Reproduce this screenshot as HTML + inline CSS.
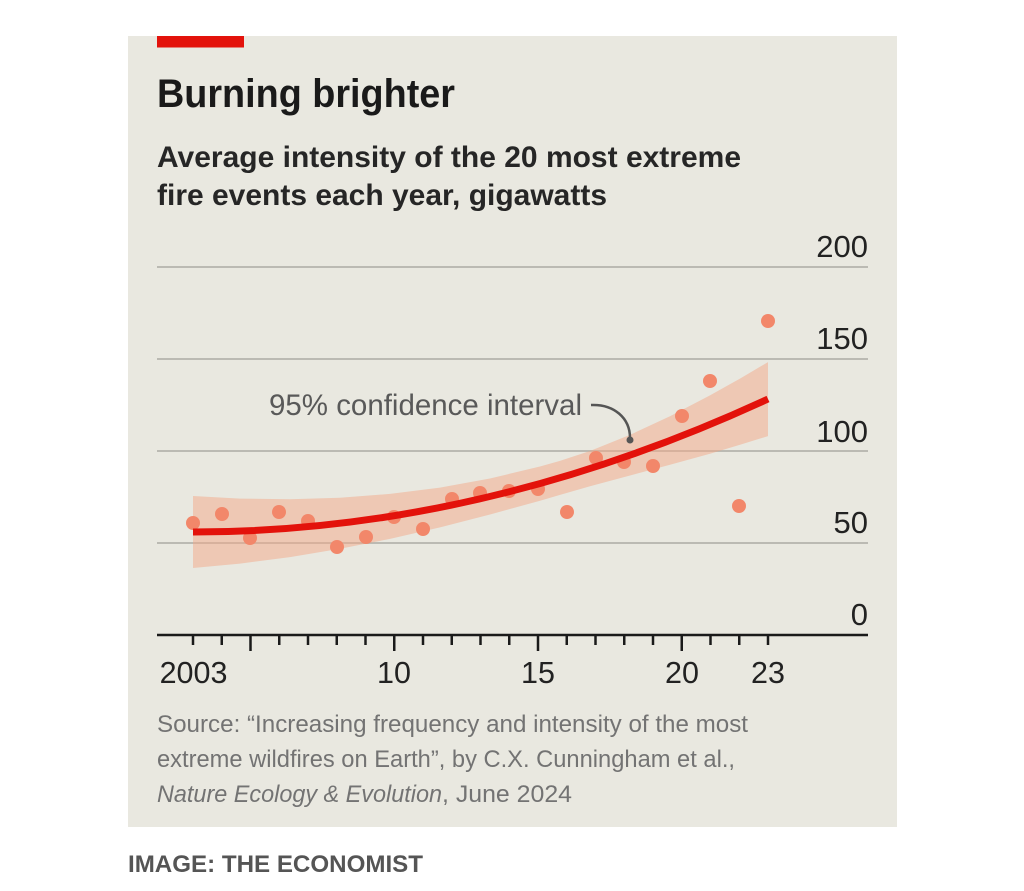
<!DOCTYPE html>
<html>
<head>
<meta charset="utf-8">
<style>
  html, body { margin: 0; padding: 0; background: #ffffff; }
  svg { display: block; }
  text { font-family: "Liberation Sans", Arial, sans-serif; }
</style>
</head>
<body>
<svg width="1024" height="891" viewBox="0 0 1024 891" xmlns="http://www.w3.org/2000/svg">
  <!-- panel -->
  <rect x="0" y="0" width="1024" height="891" fill="#ffffff"/>
  <rect x="128" y="36" width="769" height="791" fill="#e9e8e0"/>
  <rect x="157" y="36" width="87" height="11.5" fill="#e3120b"/>

  <!-- title + subtitle -->
  <text x="157" y="107" font-size="40" font-weight="bold" fill="#1a1a1a" textLength="298" lengthAdjust="spacingAndGlyphs">Burning brighter</text>
  <text x="157" y="167" font-size="29.5" font-weight="bold" fill="#262626" textLength="584" lengthAdjust="spacingAndGlyphs">Average intensity of the 20 most extreme</text>
  <text x="157" y="205" font-size="29.5" font-weight="bold" fill="#262626" textLength="450" lengthAdjust="spacingAndGlyphs">fire events each year, gigawatts</text>

  <!-- gridlines -->
  <g stroke="#bbbab3" stroke-width="2">
    <line x1="157" y1="267" x2="868" y2="267"/>
    <line x1="157" y1="359" x2="868" y2="359"/>
    <line x1="157" y1="451" x2="868" y2="451"/>
    <line x1="157" y1="543" x2="868" y2="543"/>
  </g>

  <!-- y labels -->
  <g font-size="31" fill="#222" text-anchor="end">
    <text x="868" y="257">200</text>
    <text x="868" y="349">150</text>
    <text x="868" y="442">100</text>
    <text x="868" y="533">50</text>
    <text x="868" y="625">0</text>
  </g>

  <!-- confidence band -->
  <path fill="#f3a888" fill-opacity="0.5" d="M193,496 L240,498.6 L290,499.3 L340,497.8 L390,493.9 L440,487.6 L490,478.5 L540,466.5 L560,460.9 L590,451 L630,434.9 L670,416.2 L710,395.4 L740,378.6 L768,362.1 L768,436.1 L740,444.8 L710,453.8 L670,464.8 L630,475.5 L590,486.2 L560,494.9 L540,500.7 L490,514.5 L440,527.4 L390,538.9 L340,548.8 L290,557.1 L240,563.6 L193,568 Z"/>

  <!-- dots -->
  <g fill="#f2876a">
    <circle cx="193" cy="523" r="7"/>
    <circle cx="222" cy="514" r="7"/>
    <circle cx="250" cy="538" r="7"/>
    <circle cx="279" cy="512" r="7"/>
    <circle cx="308" cy="521" r="7"/>
    <circle cx="337" cy="547" r="7"/>
    <circle cx="366" cy="537" r="7"/>
    <circle cx="394" cy="517" r="7"/>
    <circle cx="423" cy="529" r="7"/>
    <circle cx="452" cy="499" r="7"/>
    <circle cx="480" cy="493" r="7"/>
    <circle cx="509" cy="491" r="7"/>
    <circle cx="538" cy="489" r="7"/>
    <circle cx="567" cy="512" r="7"/>
    <circle cx="596" cy="458" r="7"/>
    <circle cx="624" cy="462" r="7"/>
    <circle cx="653" cy="466" r="7"/>
    <circle cx="682" cy="416" r="7"/>
    <circle cx="710" cy="381" r="7"/>
    <circle cx="739" cy="506" r="7"/>
    <circle cx="768" cy="321" r="7"/>
  </g>

  <!-- fit line -->
  <path d="M193,532 Q480.4,532 768,399" fill="none" stroke="#e3120b" stroke-width="7"/>

  <!-- annotation -->
  <text x="269" y="415" font-size="29.5" fill="#595959" textLength="313" lengthAdjust="spacingAndGlyphs">95% confidence interval</text>
  <path d="M591,405 C614,404 630,418 630,438" fill="none" stroke="#555" stroke-width="2.5"/>
  <circle cx="630" cy="440" r="3.5" fill="#555"/>

  <!-- x axis -->
  <line x1="157" y1="635" x2="868" y2="635" stroke="#1a1a1a" stroke-width="2.5"/>
  <g stroke="#1a1a1a" stroke-width="2.5">
    <line x1="193" y1="635" x2="193" y2="645"/>
    <line x1="221.75" y1="635" x2="221.75" y2="645"/>
    <line x1="250.5" y1="635" x2="250.5" y2="651"/>
    <line x1="279.25" y1="635" x2="279.25" y2="645"/>
    <line x1="308" y1="635" x2="308" y2="645"/>
    <line x1="336.75" y1="635" x2="336.75" y2="645"/>
    <line x1="365.5" y1="635" x2="365.5" y2="645"/>
    <line x1="394.25" y1="635" x2="394.25" y2="651"/>
    <line x1="423" y1="635" x2="423" y2="645"/>
    <line x1="451.75" y1="635" x2="451.75" y2="645"/>
    <line x1="480.5" y1="635" x2="480.5" y2="645"/>
    <line x1="509.25" y1="635" x2="509.25" y2="645"/>
    <line x1="538" y1="635" x2="538" y2="651"/>
    <line x1="566.75" y1="635" x2="566.75" y2="645"/>
    <line x1="595.5" y1="635" x2="595.5" y2="645"/>
    <line x1="624.25" y1="635" x2="624.25" y2="645"/>
    <line x1="653" y1="635" x2="653" y2="645"/>
    <line x1="681.75" y1="635" x2="681.75" y2="651"/>
    <line x1="710.5" y1="635" x2="710.5" y2="645"/>
    <line x1="739.25" y1="635" x2="739.25" y2="645"/>
    <line x1="768" y1="635" x2="768" y2="645"/>
  </g>
  <g font-size="30.5" fill="#222" text-anchor="middle">
    <text x="193.5" y="683">2003</text>
    <text x="394" y="683">10</text>
    <text x="538" y="683">15</text>
    <text x="682" y="683">20</text>
    <text x="768" y="683">23</text>
  </g>

  <!-- source -->
  <g font-size="24" fill="#737373">
    <text x="157" y="732" textLength="591" lengthAdjust="spacingAndGlyphs">Source: “Increasing frequency and intensity of the most</text>
    <text x="157" y="767" textLength="578" lengthAdjust="spacingAndGlyphs">extreme wildfires on Earth”, by C.X. Cunningham et al.,</text>
    <text x="157" y="802" font-style="italic" textLength="285" lengthAdjust="spacingAndGlyphs">Nature Ecology &amp; Evolution</text>
    <text x="442" y="802" textLength="130" lengthAdjust="spacingAndGlyphs">, June 2024</text>
  </g>

  <!-- credit -->
  <text x="128" y="872" font-size="24.5" font-weight="bold" fill="#555" textLength="295" lengthAdjust="spacingAndGlyphs">IMAGE: THE ECONOMIST</text>
</svg>
</body>
</html>
